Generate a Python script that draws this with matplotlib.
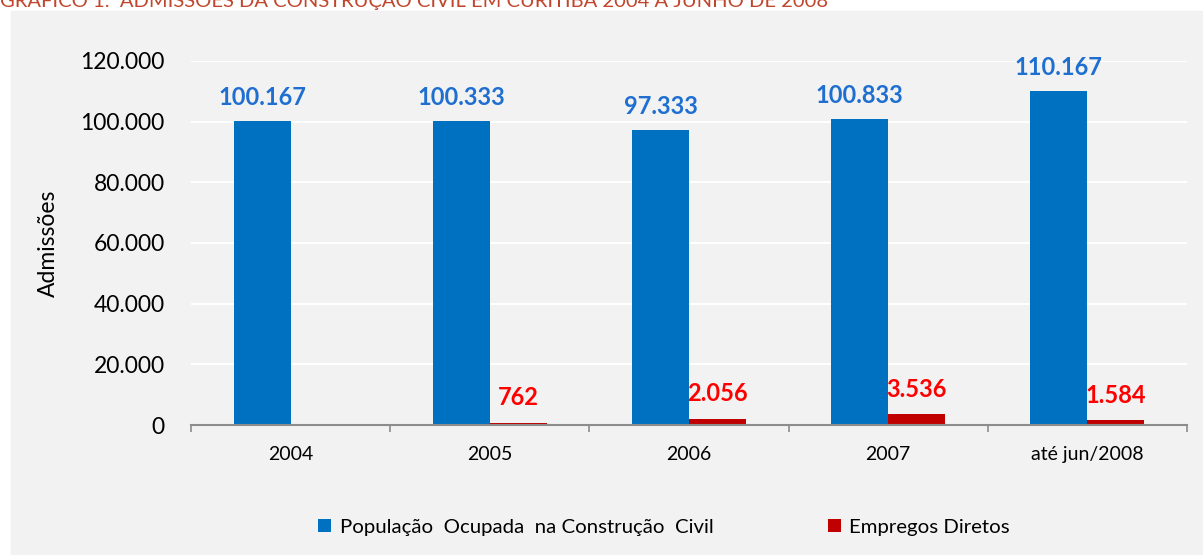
import matplotlib
matplotlib.use("Agg")
import matplotlib.pyplot as plt
from matplotlib.patches import Rectangle
import numpy as np

plt.rcParams['font.family'] = ['Lato', 'DejaVu Sans']

categorias = ['2004', '2005', '2006', '2007', 'até jun/2008']
populacao = [100167, 100333, 97333, 100833, 110167]
empregos = [0, 762, 2056, 3536, 1584]
rotulos_pop = ['100.167', '100.333', '97.333', '100.833', '110.167']
rotulos_emp = ['', '762', '2.056', '3.536', '1.584']
yticks = [0, 20000, 40000, 60000, 80000, 100000, 120000]
ytick_labels = ['0', '20.000', '40.000', '60.000', '80.000', '100.000', '120.000']

fig = plt.figure(figsize=(12.03, 5.55), dpi=100)
fig.patches.append(Rectangle((11 / 1203, 0), 1 - 11 / 1203, 1 - 11 / 555,
                             transform=fig.transFigure, color='#F2F2F2', zorder=-10))

fig.text(0.0, 0.987, 'GRÁFICO 1:  ADMISSÕES DA CONSTRUÇÃO CIVIL EM CURITIBA 2004 A JUNHO DE 2008',
         color='#C0472D', fontsize=14.5, va='baseline', ha='left')

ax = fig.add_axes([191 / 1203, 1 - 425 / 555, (1187 - 191) / 1203, (425 - 61) / 555])
ax.set_facecolor('none')

x = np.arange(len(categorias))
w = 0.286
b1 = ax.bar(x - w / 2, populacao, w, color='#0070C0', zorder=3,
            label='População  Ocupada  na Construção  Civil')
b2 = ax.bar(x + w / 2, empregos, w, color='#C00000', zorder=3, label='Empregos Diretos')

for i in range(len(categorias)):
    ax.annotate(rotulos_pop[i], (x[i] - w / 2, populacao[i]), xytext=(0, 17),
                textcoords='offset points', ha='center', va='center',
                color='#1F6FD0', fontsize=17, fontweight='bold')
    if rotulos_emp[i]:
        ax.annotate(rotulos_emp[i], (x[i] + w / 2, empregos[i]), xytext=(0, 18),
                    textcoords='offset points', ha='center', va='center',
                    color='#FF0000', fontsize=17, fontweight='bold')

ax.set_xlim(-0.5, len(categorias) - 0.5)
ax.set_ylim(0, 120000)
ax.set_yticks(yticks)
ax.set_yticklabels(ytick_labels, fontsize=16.5)
ax.set_xticks(x)
ax.set_xticklabels(categorias, fontsize=14)
ax.set_xticks(np.arange(len(categorias) + 1) - 0.5, minor=True)
ax.tick_params(axis='x', which='major', length=0, pad=15)
ax.tick_params(axis='x', which='minor', length=5, color='#8C8C8C', width=1.2)
ax.tick_params(axis='y', length=0, pad=19)
ax.grid(axis='y', color='white', linewidth=1.5, zorder=1)
for s in ['top', 'right', 'left']:
    ax.spines[s].set_visible(False)
ax.spines['bottom'].set_color('#8C8C8C')
ax.spines['bottom'].set_linewidth(1.5)
ax.spines['bottom'].set_zorder(4)

ax.set_ylabel('Admissões', fontsize=16.5)
ax.yaxis.set_label_coords(-0.133, 0.5)

fig.legend(handles=[b1, b2], loc='center', bbox_to_anchor=(664 / 1203, 1 - 527 / 555),
           ncol=2, frameon=False, fontsize=14.7, handlelength=0.65, handleheight=0.65,
           handletextpad=0.4, columnspacing=5.6)

fig.savefig('out.png', dpi=100)
